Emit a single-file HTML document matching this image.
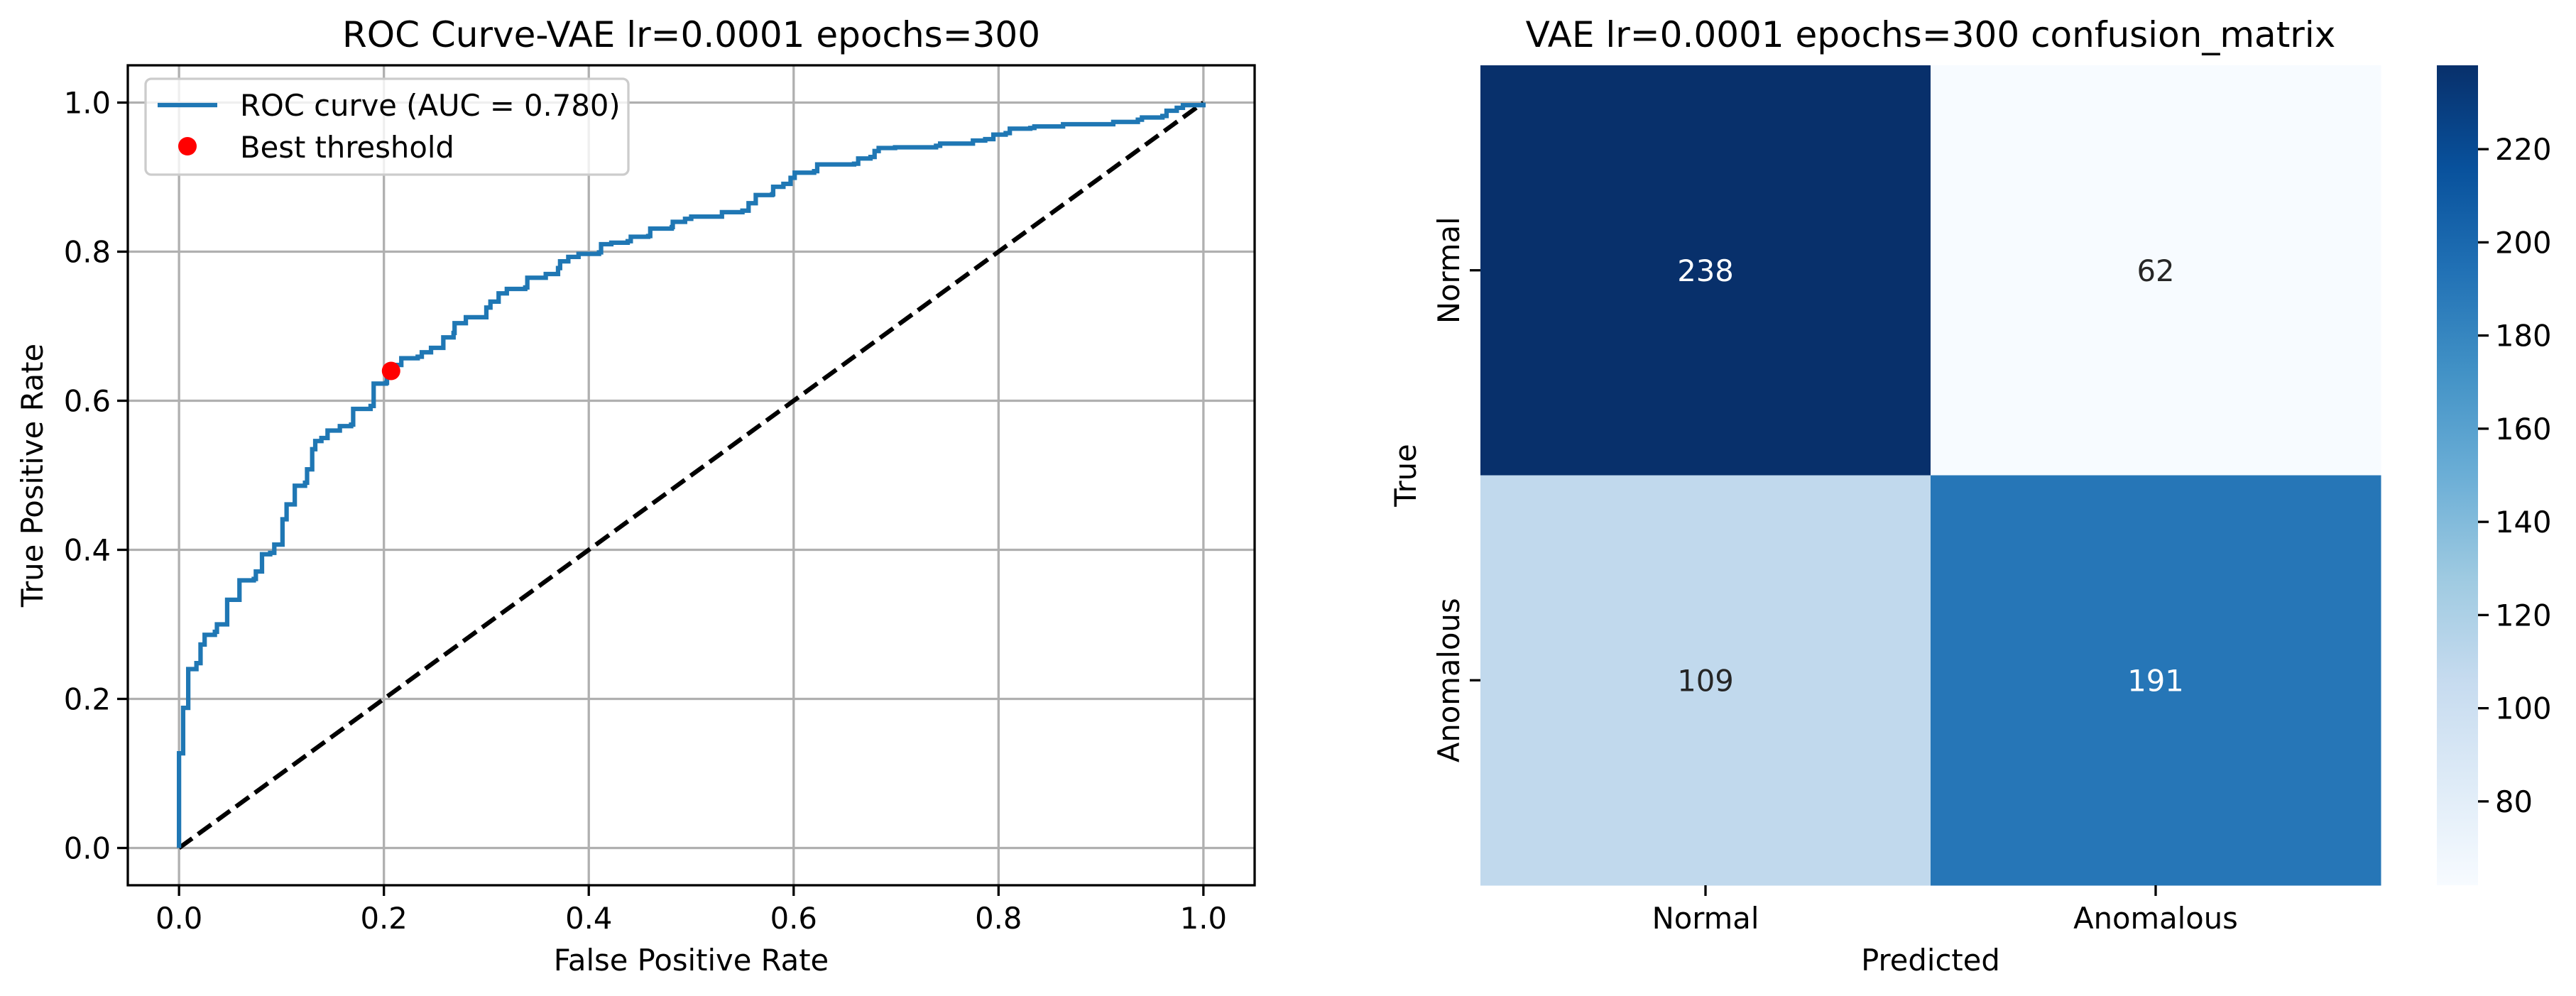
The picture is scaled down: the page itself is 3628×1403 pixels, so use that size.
<!DOCTYPE html>
<html><head><meta charset="utf-8"><style>
html,body{margin:0;padding:0;background:#fff;}
svg{display:block;font-family:"DejaVu Sans","Liberation Sans",sans-serif;}
</style></head><body>
<svg id="fig" width="3628" height="1403" viewBox="0 0 3628 1403" xmlns="http://www.w3.org/2000/svg">
<defs>
<linearGradient id="blues" x1="0" y1="1" x2="0" y2="0">
<stop offset="0" stop-color="#f7fbff"/><stop offset="0.125" stop-color="#deebf7"/><stop offset="0.25" stop-color="#c6dbef"/><stop offset="0.375" stop-color="#9ecae1"/><stop offset="0.5" stop-color="#6baed6"/><stop offset="0.625" stop-color="#4292c6"/><stop offset="0.75" stop-color="#2171b5"/><stop offset="0.875" stop-color="#08519c"/><stop offset="1" stop-color="#08306b"/>
</linearGradient>
</defs>
<g id="roc"></g>
<g id="cm"></g>
</svg>
<script>
const fprVals=[0,0,0.004,0.004,0.009,0.009,0.017,0.021,0.025,0.035,0.037,0.045,0.047,0.057,0.059,0.073,0.075,0.079,0.081,0.089,0.093,0.101,0.101,0.105,0.113,0.113,0.123,0.125,0.130,0.130,0.133,0.139,0.145,0.157,0.168,0.170,0.187,0.190,0.202,0.203,0.209,0.217,0.233,0.237,0.246,0.258,0.258,0.268,0.269,0.280,0.298,0.300,0.304,0.312,0.320,0.338,0.340,0.358,0.370,0.372,0.380,0.390,0.410,0.412,0.422,0.438,0.441,0.458,0.460,0.481,0.482,0.494,0.500,0.526,0.530,0.550,0.556,0.563,0.579,0.580,0.590,0.597,0.601,0.620,0.623,0.659,0.663,0.675,0.679,0.683,0.699,0.739,0.743,0.771,0.775,0.787,0.795,0.807,0.811,0.831,0.835,0.863,0.912,0.936,0.940,0.960,0.964,0.974,0.980,1.0];
const tprVals=[0,0.127,0.127,0.188,0.188,0.240,0.248,0.273,0.286,0.290,0.300,0.300,0.333,0.333,0.359,0.361,0.371,0.371,0.394,0.396,0.407,0.409,0.441,0.461,0.463,0.486,0.490,0.508,0.508,0.535,0.546,0.550,0.560,0.566,0.568,0.589,0.593,0.623,0.624,0.635,0.648,0.657,0.659,0.665,0.671,0.673,0.685,0.691,0.704,0.712,0.712,0.725,0.733,0.744,0.750,0.752,0.765,0.770,0.778,0.787,0.793,0.797,0.799,0.810,0.812,0.814,0.820,0.821,0.831,0.833,0.840,0.844,0.847,0.847,0.853,0.855,0.865,0.876,0.877,0.887,0.891,0.899,0.906,0.908,0.917,0.918,0.925,0.927,0.935,0.939,0.940,0.942,0.945,0.945,0.949,0.951,0.957,0.959,0.965,0.966,0.968,0.971,0.974,0.977,0.980,0.982,0.989,0.993,0.9966,1.0];
const bestPoint=[0.207,0.640];
const rocTicks=[0,0.2,0.4,0.6,0.8,1.0];
const rocTickLabels=["0.0","0.2","0.4","0.6","0.8","1.0"];
const cmClasses=["Normal","Anomalous"];
const cmRow0=[238,62];
const cmRow1=[109,191];
const cbTicks=[80,100,120,140,160,180,200,220];

const NS="http://www.w3.org/2000/svg";
function mk(tag,attrs,parent,text){const e=document.createElementNS(NS,tag);for(const k in attrs)e.setAttribute(k,attrs[k]);if(text!==undefined)e.textContent=text;parent.appendChild(e);return e;}
const FS=41.7;
// ROC axes
const roc=document.getElementById('roc');
const L=180,R=1767,T=92,B=1247;
const sx=v=>L+(v+0.05)/1.1*(R-L);
const sy=v=>B-(v+0.05)/1.1*(B-T);
let e;
rocTicks.forEach((t,i)=>{
 e=mk('line',{x1:sx(t),x2:sx(t),y1:T,y2:B,stroke:'#b0b0b0','stroke-width':3.3},roc);
 
 
 e=mk('line',{x1:L,x2:R,y1:sy(t),y2:sy(t),stroke:'#b0b0b0','stroke-width':3.3},roc);
 
 
 e=mk('line',{x1:sx(t),x2:sx(t),y1:B,y2:B+15,stroke:'#000','stroke-width':3.3},roc);
 
 
 e=mk('text',{x:sx(t),y:B+61,'font-size':FS,'text-anchor':'middle'},roc,rocTickLabels[i]);
 
 
 e=mk('line',{x1:L-15,x2:L,y1:sy(t),y2:sy(t),stroke:'#000','stroke-width':3.3},roc);
 
 
 e=mk('text',{x:L-24,y:sy(t)+15,'font-size':FS,'text-anchor':'end'},roc,rocTickLabels[i]);
 
 
});
e=mk('line',{x1:sx(0),y1:sy(0),x2:sx(1),y2:sy(1),stroke:'#000','stroke-width':6.25,'stroke-dasharray':'23 10'},roc);


let d='M'+sx(fprVals[0])+','+sy(tprVals[0]);
for(let i=1;i<fprVals.length;i++){d+=' H'+sx(fprVals[i])+' V'+sy(tprVals[i]);}
e=mk('path',{d:d,fill:'none',stroke:'#1f77b4','stroke-width':6.25,'stroke-linejoin':'miter'},roc);


e=mk('circle',{cx:sx(bestPoint[0]),cy:sy(bestPoint[1]),r:13,fill:'#ff0000'},roc);


e=mk('rect',{x:L,y:T,width:R-L,height:B-T,fill:'none',stroke:'#000','stroke-width':3.3},roc);


e=mk('text',{x:(L+R)/2,y:66,'font-size':50,'text-anchor':'middle'},roc,'ROC Curve-VAE lr=0.0001 epochs=300');


e=mk('text',{x:(L+R)/2,y:1367,'font-size':FS,'text-anchor':'middle'},roc,'False Positive Rate');


e=mk('text',{x:0,y:0,'font-size':FS,'text-anchor':'middle',transform:'translate(60,'+((T+B)/2)+') rotate(-90)'},roc,'True Positive Rate');


// legend
const lg=mk('g',{},roc);


mk('rect',{x:205,y:111,width:680,height:135,rx:8,fill:'#fff','fill-opacity':0.8,stroke:'#cccccc','stroke-width':3.3},lg);
mk('line',{x1:222,x2:306,y1:148,y2:148,stroke:'#1f77b4','stroke-width':6.25},lg);
e=mk('text',{x:338,y:163,'font-size':FS},lg,'ROC curve (AUC = 0.780)');


mk('circle',{cx:264,cy:206,r:13,fill:'#ff0000'},lg);
e=mk('text',{x:338,y:222,'font-size':FS},lg,'Best threshold');



// Confusion matrix
const cm=document.getElementById('cm');
const HL=2085,HR=3353,HT=92,HB=1247;
const vmin=62,vmax=238;
const stops=[[247,251,255],[222,235,247],[198,219,239],[158,202,225],[107,174,214],[66,146,198],[33,113,181],[8,81,156],[8,48,107]];
function blues(v){let t=(v-vmin)/(vmax-vmin);t=Math.max(0,Math.min(1,t))*8;const i=Math.min(7,Math.floor(t)),f=t-i;const c=stops[i].map((a,k)=>Math.round(a+(stops[i+1][k]-a)*f));return 'rgb('+c.join(',')+')';}
const cw=(HR-HL)/2,ch=(HB-HT)/2;
[cmRow0,cmRow1].forEach((row,r)=>{row.forEach((v,c)=>{
 e=mk('rect',{x:HL+c*cw,y:HT+r*ch,width:cw+0.5,height:ch+0.5,fill:blues(v)},cm);
 
 
 const lum=(v-vmin)/(vmax-vmin);
 e=mk('text',{x:HL+(c+0.5)*cw,y:HT+(r+0.5)*ch+15,'font-size':FS,'text-anchor':'middle',fill:lum>0.5?'#ffffff':'#262626'},cm,String(v));
 
 
});});
cmClasses.forEach((name,i)=>{
 const cx=HL+(i+0.5)*cw, cy=HT+(i+0.5)*ch;
 mk('line',{x1:cx,x2:cx,y1:HB,y2:HB+15,stroke:'#000','stroke-width':3.3},cm);
 e=mk('text',{x:cx,y:HB+61,'font-size':FS,'text-anchor':'middle'},cm,name);
 
 
 mk('line',{x1:HL-15,x2:HL,y1:cy,y2:cy,stroke:'#000','stroke-width':3.3},cm);
 e=mk('text',{x:0,y:0,'font-size':FS,'text-anchor':'middle',transform:'translate('+(HL-30)+','+cy+') rotate(-90)'},cm,name);
 
 
});
e=mk('text',{x:(HL+HR)/2,y:66,'font-size':50,'text-anchor':'middle'},cm,'VAE lr=0.0001 epochs=300 confusion_matrix');


e=mk('text',{x:(HL+HR)/2,y:1367,'font-size':FS,'text-anchor':'middle'},cm,'Predicted');


e=mk('text',{x:0,y:0,'font-size':FS,'text-anchor':'middle',transform:'translate(1994,'+((HT+HB)/2)+') rotate(-90)'},cm,'True');


// colorbar
const CL=3432,CR=3490;
e=mk('rect',{x:CL,y:HT,width:CR-CL,height:HB-HT,fill:'url(#blues)'},cm);


const cy=v=>HB-(v-vmin)/(vmax-vmin)*(HB-HT);
cbTicks.forEach(t=>{
 mk('line',{x1:CR,x2:CR+15,y1:cy(t),y2:cy(t),stroke:'#000','stroke-width':3.3},cm);
 e=mk('text',{x:CR+24,y:cy(t)+15,'font-size':FS},cm,String(t));
 
 
});
</script>
</body></html>
